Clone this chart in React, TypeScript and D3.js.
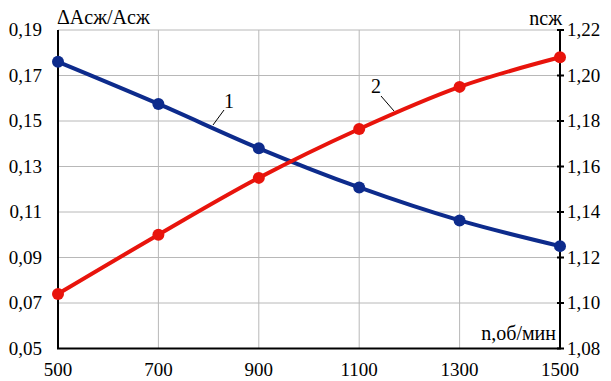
import * as d3 from 'd3'

const speeds = [500, 700, 900, 1100, 1300, 1500]
const lossRatio = [0.176, 0.1575, 0.138, 0.1208, 0.1063, 0.095]
const compressionFactor = [1.104, 1.13, 1.155, 1.1765, 1.195, 1.208]
const leftTicks = [0.05, 0.07, 0.09, 0.11, 0.13, 0.15, 0.17, 0.19]
const rightTicks = [1.08, 1.1, 1.12, 1.14, 1.16, 1.18, 1.2, 1.22]
const xTicks = [500, 700, 900, 1100, 1300, 1500]

const W = 611
const H = 381
const m = { left: 58, right: 51, top: 30, bottom: 32.5 }
const FONT = "'Liberation Serif'"
const BLUE = '#0d2b8c'
const RED = '#e8140c'

const fmt = (v: number) => v.toFixed(2).replace('.', ',')

export default function App() {
  const x = d3.scaleLinear().domain([500, 1500]).range([m.left, W - m.right])
  const yL = d3.scaleLinear().domain([0.05, 0.19]).range([H - m.bottom, m.top])
  const yR = d3.scaleLinear().domain([1.08, 1.22]).range([H - m.bottom, m.top])
  const x0 = m.left
  const x1 = W - m.right
  const yBottom = H - m.bottom

  const series = [
    { values: lossRatio, y: yL, color: BLUE },
    { values: compressionFactor, y: yR, color: RED },
  ]

  const t19 = { fontFamily: FONT, fontSize: 19 }
  const t20 = { fontFamily: FONT, fontSize: 20 }

  return (
    <div style={{ position: 'absolute', left: 0, top: 0, width: W, height: H, background: '#fff' }}>
      <style>{`svg text { font-family: 'Liberation Serif', serif !important; }`}</style>
      <svg width={W} height={H}>
        {leftTicks.map((t) => (
          <line key={'h' + t} x1={x0} x2={x1} y1={yL(t)} y2={yL(t)} stroke="#b8b8b8" strokeWidth={1} />
        ))}
        {xTicks.slice(1, -1).map((t) => (
          <line key={'v' + t} x1={x(t)} x2={x(t)} y1={m.top} y2={yBottom} stroke="#b8b8b8" strokeWidth={1} />
        ))}

        <g stroke="#000" strokeWidth={2}>
          <line x1={x0} x2={x0} y1={m.top} y2={yBottom} />
          <line x1={x0 - 1} x2={x1 + 1} y1={yBottom} y2={yBottom} />
          <line x1={x1} x2={x1} y1={m.top} y2={yBottom} />
          {rightTicks.map((t) => (
            <line key={'rt' + t} x1={x1 - 3} x2={x1 + 4} y1={yR(t)} y2={yR(t)} />
          ))}
        </g>

        {series.map((s, si) => {
          const line = d3
            .line<number>()
            .x((_, i) => x(speeds[i]))
            .y((d) => s.y(d))
            .curve(d3.curveMonotoneX)
          return (
            <g key={si}>
              <path d={line(s.values) || ''} fill="none" stroke={s.color} strokeWidth={4} />
              {s.values.map((v, i) => (
                <circle key={i} cx={x(speeds[i])} cy={s.y(v)} r={6} fill={s.color} />
              ))}
            </g>
          )
        })}

        {leftTicks.map((t) => (
          <text key={'lt' + t} x={42} y={yL(t)} dy="0.33em" textAnchor="end" style={t19}>
            {fmt(t)}
          </text>
        ))}
        {rightTicks.map((t) => (
          <text key={'rl' + t} x={x1 + 7} y={yR(t)} dy="0.33em" style={t19}>
            {fmt(t)}
          </text>
        ))}
        {xTicks.map((t) => (
          <text key={'xl' + t} x={x(t)} y={376} textAnchor="middle" style={t19}>
            {t}
          </text>
        ))}
        <text x={57} y={24} style={t20}>
          ΔAсж/Aсж
        </text>
        <text x={x1 + 2} y={25} textAnchor="end" style={t20}>
          nсж
        </text>
        <text x={x1 - 4} y={340} textAnchor="end" style={t20}>
          n,об/мин
        </text>
        <line x1={213} y1={125} x2={224} y2={110} stroke="#000" strokeWidth={1} />
        <text x={224} y={108} style={t20}>
          1
        </text>
        <line x1={381} y1={96} x2={394} y2={111} stroke="#000" strokeWidth={1} />
        <text x={371} y={93} style={t20}>
          2
        </text>
      </svg>
    </div>
  )
}
